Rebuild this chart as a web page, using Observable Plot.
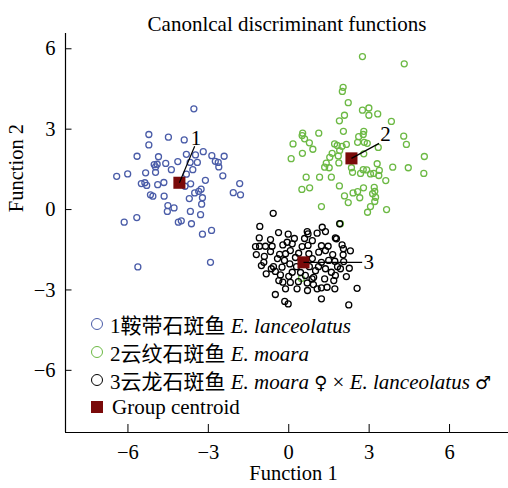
<!DOCTYPE html>
<html><head><meta charset="utf-8">
<script src="https://cdn.jsdelivr.net/npm/d3@7"></script>
<script src="https://cdn.jsdelivr.net/npm/@observablehq/plot@0.6"></script>
<style>
body{margin:0;background:#fff}
#wrap{position:relative;width:508px;height:488px;font-family:"Liberation Serif","Times New Roman",serif}
.row{position:absolute;left:91px;height:28px;display:flex;align-items:center;font-size:21px;white-space:nowrap;color:#000}
.mk{width:12px;height:12px;box-sizing:border-box;border-radius:50%;border:1.5px solid;margin-right:7px;flex:none}
.sq{width:12px;height:12px;background:#7a0a0a;margin-right:9px;flex:none}
.cjk{font-family:"Noto Sans CJK SC",sans-serif}
.sym{font-family:"DejaVu Sans",sans-serif;font-size:18px}
</style></head>
<body>
<div id="wrap"></div>
<script>
const title = "Canonlcal discriminant functions";
const xLabel = "Function 1";
const yLabel = "Function 2";
const xTicks = [-6, -3, 0, 3, 6];
const yTicks = [-6, -3, 0, 3, 6];
const xDomain = [-8.33, 8.2];
const yDomain = [-8.32, 6.57];

const groupNames = ["1鞍带石斑鱼 E. lanceolatus", "2云纹石斑鱼 E. moara", "3云龙石斑鱼 E. moara ♀ × E. lanceolatus ♂"];
const groupColors = ["#4a5ca8", "#6cb944", "#000000"];
const centroidColor = "#7a0a0a";

const g1x = [-3.54,-5.22,-4.49,-3.90,-5.22,-5.66,-4.86,-3.82,-3.19,-3.48,-2.87,-2.41,-2.74,-2.63,-2.61,-5.02,-4.91,-4.97,-4.59,-4.14,-3.68,-3.41,-4.38,-3.58,-3.82,-6.42,-6.01,-5.34,-4.97,-2.46,-3.11,-5.50,-5.37,-5.30,-4.89,-4.66,-3.66,-1.83,-3.87,-3.27,-3.36,-3.51,-2.07,-1.80,-5.16,-5.07,-4.65,-3.71,-3.22,-3.25,-4.51,-4.28,-4.53,-3.67,-3.29,-5.67,-6.14,-4.12,-4.01,-3.63,-2.88,-3.22,-5.63,-2.92];
const g1y = [3.76,2.80,2.70,2.60,2.41,1.99,1.97,2.06,2.16,2.04,2.01,1.99,1.80,1.76,1.59,1.68,1.69,1.59,1.72,1.79,1.76,1.76,1.49,1.49,1.32,1.24,1.33,1.37,1.39,1.26,1.09,0.97,1.00,0.90,0.93,1.01,0.96,0.97,0.87,0.76,0.68,0.62,0.63,0.55,0.55,0.50,0.50,0.41,0.44,0.20,0.15,0.06,-0.07,-0.07,-0.19,-0.30,-0.47,-0.47,-0.42,-0.53,-0.78,-0.92,-2.14,-1.97];

const g2x = [2.75,4.31,2.03,2.00,2.22,2.75,2.99,2.99,3.32,2.08,1.89,3.83,2.04,1.12,0.52,2.80,4.29,0.50,2.61,2.78,2.82,2.57,2.93,4.39,0.16,0.59,0.77,0.90,0.51,0.09,1.71,1.81,1.99,2.15,1.90,1.62,1.53,1.85,1.87,1.40,1.34,1.51,2.80,3.34,5.06,3.30,3.88,4.46,5.04,2.34,2.78,2.38,2.68,2.91,3.05,3.17,3.38,3.36,3.62,0.65,1.15,1.59,1.89,2.79,3.19,3.21,0.49,0.78,2.40,2.57,2.08,2.65,3.13,3.24,2.22,3.21,3.05,2.94,3.65,1.22,1.93,0.47];
const g2y = [5.71,5.44,4.56,4.41,3.99,3.71,3.79,3.52,3.57,3.52,3.31,3.29,2.92,2.85,2.85,2.92,2.74,2.76,2.72,2.80,2.51,2.51,2.47,2.43,2.45,2.64,2.49,2.25,2.10,1.90,2.45,2.39,2.36,2.43,2.20,2.10,1.95,2.00,1.74,1.73,1.58,1.56,2.08,2.32,1.98,1.71,1.58,1.56,1.35,1.56,1.49,1.39,1.35,1.48,1.33,1.35,1.46,1.27,1.08,1.21,1.21,1.21,0.88,0.81,0.83,0.68,0.75,0.81,0.62,0.67,0.51,0.44,0.59,0.46,0.26,0.30,0.11,-0.10,0.00,0.11,-0.53,-2.57];

const g3x = [-0.58,-1.08,-0.02,0.69,0.72,1.06,1.25,1.37,1.90,-1.10,-0.68,1.74,-1.09,-0.87,-0.62,-0.22,-0.06,0.13,0.50,0.72,1.22,1.47,1.78,1.99,2.30,-0.34,-0.12,0.37,0.75,1.12,1.37,1.64,2.03,0.06,0.25,0.88,-0.68,-0.91,-0.93,-1.02,-0.65,-0.50,-0.84,-0.31,-0.37,-0.22,-0.12,0.31,0.69,0.87,1.06,1.22,1.43,1.72,1.34,1.68,1.74,1.59,1.93,2.26,2.55,-0.50,-0.15,-0.02,1.22,2.24,0.13,0.00,0.93,1.00,1.37,1.22,1.49,1.72,2.05,0.70,-0.57,-0.25,0.04,0.29,0.77,1.11,0.44,0.62,0.21,0.88,-0.42,-0.16,2.04,1.82,-1.21,0.36,0.92,0.06,2.15,-1.24,0.59,-0.38];
const g3y = [-0.14,-0.63,-0.92,-0.82,-0.91,-0.88,-0.66,-0.82,-0.53,-1.06,-1.12,-1.06,-1.37,-1.37,-1.37,-1.32,-1.22,-1.28,-1.38,-1.34,-1.35,-1.37,-1.09,-1.32,-1.54,-1.67,-1.65,-1.63,-1.65,-1.59,-1.53,-1.68,-1.69,-1.53,-1.79,-1.83,-1.57,-1.75,-1.97,-2.09,-2.21,-2.31,-2.40,-2.44,-2.65,-2.71,-2.96,-2.96,-2.74,-2.59,-2.96,-2.92,-2.90,-2.96,-2.59,-2.65,-2.46,-2.34,-2.21,-2.19,-2.94,-3.17,-3.43,-3.52,-3.33,-3.56,-2.34,-2.49,-2.53,-2.28,-2.21,-1.97,-1.90,-1.93,-1.94,-3.02,-2.13,-2.15,-2.03,-2.13,-2.13,-2.13,-2.35,-2.46,-1.08,-1.16,-1.83,-1.90,-1.46,-2.13,-1.68,-2.69,-2.80,-2.72,-2.50,-1.38,-1.08,-0.86];

const centroidX = [-4.08, 2.34, 0.55];
const centroidY = [1.00, 1.91, -1.97];
const centroidLabels = ["1", "2", "3"];
const labelX = [-3.46, 3.61, 2.99];
const labelY = [2.66, 2.82, -1.96];
const leaderEndX = [-3.51, 3.37, 2.74];
const leaderEndY = [2.36, 2.47, -1.97];

const pts = [];
[[g1x, g1y], [g2x, g2y], [g3x, g3y]].forEach(([xs, ys], gi) => {
  xs.forEach((x, i) => pts.push({x, y: ys[i], g: gi}));
});
const cents = centroidX.map((x, i) => ({x, y: centroidY[i], lx: labelX[i], ly: labelY[i], ex: leaderEndX[i], ey: leaderEndY[i], label: centroidLabels[i]}));

const chart = Plot.plot({
  width: 508, height: 488,
  marginLeft: 65, marginRight: 0, marginTop: 33, marginBottom: 56,
  x: {domain: xDomain},
  y: {domain: yDomain},
  style: {fontFamily: "'Liberation Serif','Times New Roman',serif", fontSize: "20.5px", color: "#000", background: "#fff"},
  marks: [
    Plot.ruleX([xDomain[0]], {stroke: "#000", strokeWidth: 1.2}),
    Plot.ruleY([yDomain[0]], {stroke: "#000", strokeWidth: 1.2}),
    Plot.axisX({ticks: xTicks, tickSize: -8, tickPadding: 19.7, label: null, tickFormat: d => d < 0 ? "\u2212" + Math.abs(d) : String(d)}),
    Plot.axisY({ticks: yTicks, tickSize: -6.5, tickPadding: 16.5, label: null, tickFormat: d => d < 0 ? "\u2212" + Math.abs(d) : String(d)}),
    Plot.dot(pts, {x: "x", y: "y", r: 3, stroke: d => groupColors[d.g], strokeWidth: 1.3, fill: "none"}),
    Plot.dot(cents, {x: "x", y: "y", symbol: "square", r: 6.8, fill: centroidColor, stroke: "none"}),
    Plot.link(cents, {x1: "x", y1: "y", x2: "ex", y2: "ey", stroke: "#000", strokeWidth: 1.2}),
    Plot.text(cents, {x: "lx", y: "ly", text: "label", fontSize: 21, fill: "#000"}),
    Plot.text([title], {frameAnchor: "top", dy: -17.7, fontSize: 21, fill: "#000"}),
    Plot.text([xLabel], {frameAnchor: "bottom", dy: 47, dx: 6.5, fontSize: 20.5, fill: "#000"}),
    Plot.text([yLabel], {frameAnchor: "left", dx: -48.6, dy: -20.8, rotate: -90, fontSize: 20.5, fill: "#000"})
  ]
});
const wrap = document.getElementById("wrap");
wrap.appendChild(chart);

const legendRows = [
  {kind: "circle", color: groupColors[0], html: '1<span class="cjk">鞍带石斑鱼</span>&nbsp;<i>E. lanceolatus</i>', cy: 324},
  {kind: "circle", color: groupColors[1], html: '2<span class="cjk">云纹石斑鱼</span>&nbsp;<i>E. moara</i>', cy: 352},
  {kind: "circle", color: groupColors[2], html: '3<span class="cjk">云龙石斑鱼</span>&nbsp;<i>E. moara</i>&nbsp;<span class="sym">♀</span>&nbsp;×&nbsp;<i>E. lanceolatus</i>&nbsp;<span class="sym">♂</span>', cy: 380},
  {kind: "square", color: centroidColor, html: 'Group centroid', cy: 407}
];
legendRows.forEach(r => {
  const row = document.createElement("div");
  row.className = "row";
  row.style.top = (r.cy - 14) + "px";
  const mk = document.createElement("span");
  if (r.kind === "circle") { mk.className = "mk"; mk.style.borderColor = r.color; }
  else { mk.className = "sq"; mk.style.background = r.color; }
  row.appendChild(mk);
  const t = document.createElement("span");
  t.innerHTML = r.html;
  row.appendChild(t);
  wrap.appendChild(row);
});
</script>
</body></html>
